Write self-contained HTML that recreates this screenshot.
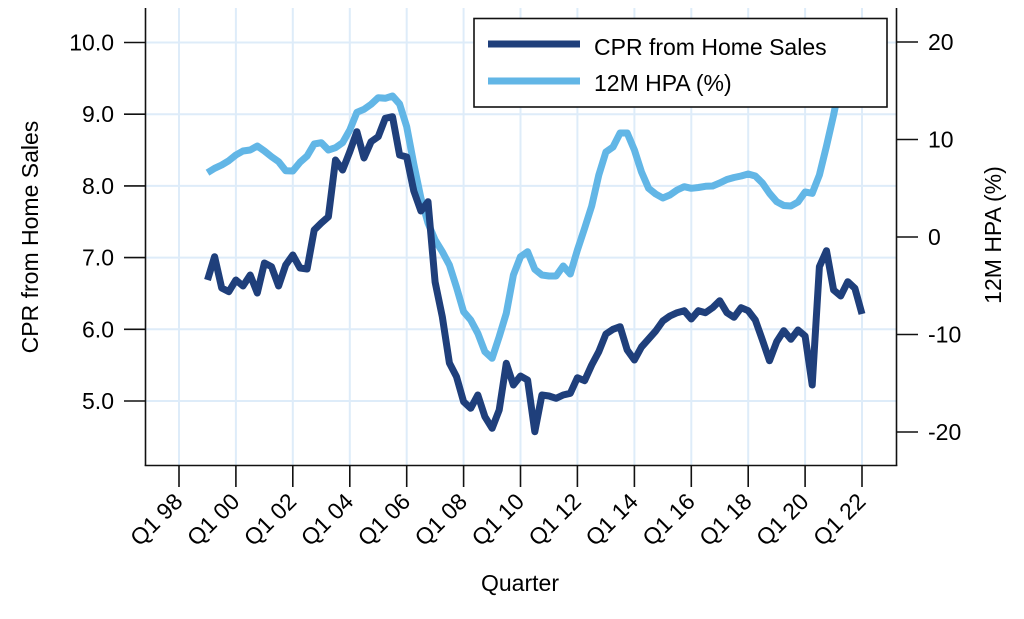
<!DOCTYPE html>
<html>
<head>
<meta charset="utf-8">
<style>
html,body{margin:0;padding:0;background:#fff;}
svg{display:block;}
text{font-family:"Liberation Sans",Arial,sans-serif;font-size:23px;fill:#000;}
</style>
</head>
<body>
<svg width="1024" height="619" viewBox="0 0 1024 619" xmlns="http://www.w3.org/2000/svg">
<rect x="0" y="0" width="1024" height="619" fill="#fff"/>
<!-- grid -->
<g stroke="#deecf9" stroke-width="2" fill="none">
<line x1="179" y1="8" x2="179" y2="465"/>
<line x1="235.9" y1="8" x2="235.9" y2="465"/>
<line x1="292.8" y1="8" x2="292.8" y2="465"/>
<line x1="349.8" y1="8" x2="349.8" y2="465"/>
<line x1="406.7" y1="8" x2="406.7" y2="465"/>
<line x1="463.6" y1="8" x2="463.6" y2="465"/>
<line x1="520.5" y1="8" x2="520.5" y2="465"/>
<line x1="577.4" y1="8" x2="577.4" y2="465"/>
<line x1="634.4" y1="8" x2="634.4" y2="465"/>
<line x1="691.3" y1="8" x2="691.3" y2="465"/>
<line x1="748.2" y1="8" x2="748.2" y2="465"/>
<line x1="805.1" y1="8" x2="805.1" y2="465"/>
<line x1="862" y1="8" x2="862" y2="465"/>
<line x1="146" y1="42.5" x2="896" y2="42.5"/>
<line x1="146" y1="114.2" x2="896" y2="114.2"/>
<line x1="146" y1="185.9" x2="896" y2="185.9"/>
<line x1="146" y1="257.6" x2="896" y2="257.6"/>
<line x1="146" y1="329.3" x2="896" y2="329.3"/>
<line x1="146" y1="401" x2="896" y2="401"/>
</g>
<!-- HPA series -->
<polyline fill="none" stroke="#62b6e6" stroke-width="7" stroke-linejoin="round" stroke-linecap="butt" points="
207.5,172.7 214.6,168.3 221.7,165 228.8,160.7 235.9,155 243.0,151 250.2,150 257.3,146 264.4,151 271.5,156.7 278.6,161.7 285.7,170.7 292.8,171 300.0,162.3 307.1,156 314.2,144 321.3,142.7 328.4,150 335.5,147.7 342.6,142.7 349.8,130 356.9,112.3 364.0,109.3 371.1,104.3 378.2,97.7 385.3,98.3 392.5,96 399.6,104 406.7,126.7 413.8,164 420.9,198 428.0,223 435.1,240 442.3,251.7 449.4,265 456.5,287.3 463.6,311.7 470.7,320 477.8,333.3 484.9,351.7 492.1,358.3 499.2,336.7 506.3,313.3 513.4,275 520.5,256.7 527.6,251.7 534.8,269.3 541.9,275 549.0,276 556.1,276 563.2,266 570.3,274 577.4,250 584.6,228.3 591.7,206 598.8,175 605.9,152 613.0,147 620.1,133 627.2,133 634.4,150 641.5,172 648.6,188.3 655.7,194 662.8,198 669.9,195 677.1,190 684.2,186.7 691.3,188.3 698.4,187.5 705.5,186.3 712.6,186 719.7,183 726.9,179.5 734.0,177.5 741.1,176 748.2,174 755.3,176 762.4,183 769.5,193.3 776.7,201.7 783.8,205.5 790.9,206 798.0,202 805.1,192 812.2,193.3 819.4,175 826.5,146 833.6,115 840.7,80 847.8,55 854.9,45 862.0,40"/>
<!-- CPR series -->
<polyline fill="none" stroke="#1f3f7b" stroke-width="7" stroke-linejoin="round" stroke-linecap="butt" points="
207.5,280 214.6,256.7 221.7,288 228.8,291.7 235.9,280 243.0,286 250.2,275 257.3,293 264.4,263 271.5,266.7 278.6,286 285.7,265 292.8,255 300.0,268 307.1,269 314.2,230 321.3,223 328.4,216.7 335.5,160 342.6,170 349.8,151.7 356.9,131.7 364.0,158 371.1,141.7 378.2,136.7 385.3,118.3 392.5,116.7 399.6,155 406.7,157 413.8,191 420.9,211 428.0,201.7 435.1,282 442.3,316.7 449.4,363 456.5,376.7 463.6,401.7 470.7,408.3 477.8,395 484.9,416.7 492.1,428.3 499.2,410 506.3,363.3 513.4,385 520.5,376 527.6,380 534.8,431.7 541.9,395 549.0,396 556.1,398.3 563.2,395 570.3,393.3 577.4,377.7 584.6,380.7 591.7,365 598.8,351.7 605.9,334 613.0,329.3 620.1,326.7 627.2,350 634.4,360 641.5,347 648.6,339 655.7,331 662.8,321 669.9,316 677.1,312.7 684.2,310.7 691.3,319 698.4,310.7 705.5,312.7 712.6,307.7 719.7,300.7 726.9,312.7 734.0,317.3 741.1,307.7 748.2,310.7 755.3,320 762.4,340 769.5,360.7 776.7,341.7 783.8,330.7 790.9,339.3 798.0,330 805.1,336 812.2,385 819.4,266.7 826.5,250.7 833.6,290 840.7,296 847.8,281.7 854.9,288.3 862.0,314"/>
<!-- axes frame -->
<g stroke="#111" stroke-width="1.6" fill="none">
<line x1="145.5" y1="8" x2="145.5" y2="466"/>
<line x1="144.7" y1="465.5" x2="897.3" y2="465.5"/>
<line x1="896.5" y1="8" x2="896.5" y2="466"/>
<line x1="124" y1="42.5" x2="145.5" y2="42.5"/>
<line x1="124" y1="114.2" x2="145.5" y2="114.2"/>
<line x1="124" y1="185.9" x2="145.5" y2="185.9"/>
<line x1="124" y1="257.6" x2="145.5" y2="257.6"/>
<line x1="124" y1="329.3" x2="145.5" y2="329.3"/>
<line x1="124" y1="401" x2="145.5" y2="401"/>
<line x1="896.5" y1="42" x2="918" y2="42"/>
<line x1="896.5" y1="139.5" x2="918" y2="139.5"/>
<line x1="896.5" y1="237" x2="918" y2="237"/>
<line x1="896.5" y1="334.5" x2="918" y2="334.5"/>
<line x1="896.5" y1="432" x2="918" y2="432"/>
<line x1="179" y1="465.5" x2="179" y2="487"/>
<line x1="235.9" y1="465.5" x2="235.9" y2="487"/>
<line x1="292.8" y1="465.5" x2="292.8" y2="487"/>
<line x1="349.8" y1="465.5" x2="349.8" y2="487"/>
<line x1="406.7" y1="465.5" x2="406.7" y2="487"/>
<line x1="463.6" y1="465.5" x2="463.6" y2="487"/>
<line x1="520.5" y1="465.5" x2="520.5" y2="487"/>
<line x1="577.4" y1="465.5" x2="577.4" y2="487"/>
<line x1="634.4" y1="465.5" x2="634.4" y2="487"/>
<line x1="691.3" y1="465.5" x2="691.3" y2="487"/>
<line x1="748.2" y1="465.5" x2="748.2" y2="487"/>
<line x1="805.1" y1="465.5" x2="805.1" y2="487"/>
<line x1="862" y1="465.5" x2="862" y2="487"/>
</g>
<!-- left tick labels -->
<g text-anchor="end">
<text x="114" y="50.5">10.0</text>
<text x="114" y="122.2">9.0</text>
<text x="114" y="193.9">8.0</text>
<text x="114" y="265.6">7.0</text>
<text x="114" y="337.3">6.0</text>
<text x="114" y="409">5.0</text>
</g>
<!-- right tick labels -->
<g text-anchor="start">
<text x="928" y="50">20</text>
<text x="928" y="147.5">10</text>
<text x="928" y="245">0</text>
<text x="928" y="342.5">-10</text>
<text x="928" y="440">-20</text>
</g>
<!-- x tick labels -->
<g text-anchor="end">
<text x="184" y="503" transform="rotate(-45 184 503)">Q1 98</text>
<text x="240.9" y="503" transform="rotate(-45 240.9 503)">Q1 00</text>
<text x="297.8" y="503" transform="rotate(-45 297.8 503)">Q1 02</text>
<text x="354.8" y="503" transform="rotate(-45 354.8 503)">Q1 04</text>
<text x="411.7" y="503" transform="rotate(-45 411.7 503)">Q1 06</text>
<text x="468.6" y="503" transform="rotate(-45 468.6 503)">Q1 08</text>
<text x="525.5" y="503" transform="rotate(-45 525.5 503)">Q1 10</text>
<text x="582.4" y="503" transform="rotate(-45 582.4 503)">Q1 12</text>
<text x="639.4" y="503" transform="rotate(-45 639.4 503)">Q1 14</text>
<text x="696.3" y="503" transform="rotate(-45 696.3 503)">Q1 16</text>
<text x="753.2" y="503" transform="rotate(-45 753.2 503)">Q1 18</text>
<text x="810.1" y="503" transform="rotate(-45 810.1 503)">Q1 20</text>
<text x="867" y="503" transform="rotate(-45 867 503)">Q1 22</text>
</g>
<!-- axis titles -->
<text x="38" y="237" text-anchor="middle" transform="rotate(-90 38 237)">CPR from Home Sales</text>
<text x="1001" y="235" text-anchor="middle" transform="rotate(-90 1001 235)">12M HPA (%)</text>
<text x="520" y="591" text-anchor="middle">Quarter</text>
<!-- legend -->
<rect x="474" y="18.5" width="413" height="88.5" fill="#fff" stroke="#111" stroke-width="1.6"/>
<line x1="488" y1="44" x2="580" y2="44" stroke="#1f3f7b" stroke-width="7"/>
<line x1="488" y1="81" x2="580" y2="81" stroke="#62b6e6" stroke-width="7"/>
<text x="594" y="55">CPR from Home Sales</text>
<text x="594" y="91">12M HPA (%)</text>
</svg>
</body>
</html>
